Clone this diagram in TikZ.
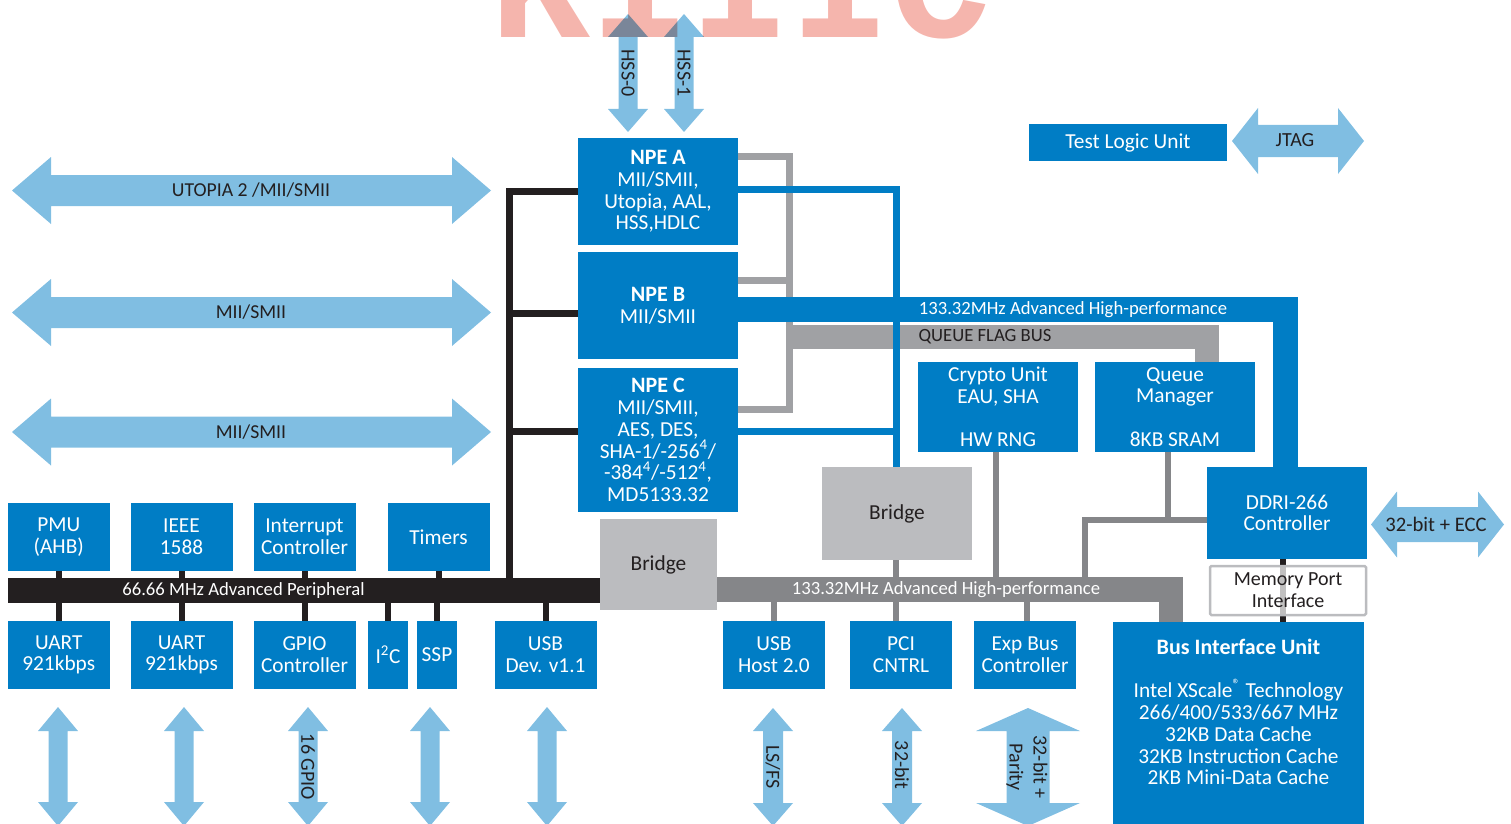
\documentclass[tikz,border=0pt]{standalone}
\usepackage{fontspec}
\setmainfont{Carlito}
\newfontfamily\wmfont{Liberation Mono}
\usetikzlibrary{calc}
\definecolor{iblue}{RGB}{0,125,197}
\definecolor{lblue}{RGB}{128,190,226}
\definecolor{bgray}{RGB}{187,188,191}
\definecolor{dgray}{RGB}{133,134,137}
\definecolor{qgray}{RGB}{160,161,164}
\definecolor{ink}{RGB}{35,31,32}
\definecolor{wpink}{RGB}{245,181,173}
\pgfdeclarelayer{bg}
\pgfsetlayers{bg,main}
\newcommand\supfour{\smash{\textsuperscript{4}}}
% horizontal double arrow: x1,x2,yc,shaft half,head half,head length
\newcommand\dblh[6]{\fill[lblue] (#1,#3) -- ({#1+#6},{#3-#5}) -- ({#1+#6},{#3-#4}) -- ({#2-#6},{#3-#4}) -- ({#2-#6},{#3-#5}) -- (#2,#3) -- ({#2-#6},{#3+#5}) -- ({#2-#6},{#3+#4}) -- ({#1+#6},{#3+#4}) -- ({#1+#6},{#3+#5}) -- cycle;}
% vertical double arrow: xc,y1,y2,shaft half,head half,head length
\newcommand\dblv[6]{\fill[lblue] (#1,#2) -- ({#1+#5},{#2+#6}) -- ({#1+#4},{#2+#6}) -- ({#1+#4},{#3-#6}) -- ({#1+#5},{#3-#6}) -- (#1,#3) -- ({#1-#5},{#3-#6}) -- ({#1-#4},{#3-#6}) -- ({#1-#4},{#2+#6}) -- ({#1-#5},{#2+#6}) -- cycle;}
\tikzset{
 base/.style={inner sep=0pt, outer sep=0pt, align=center, font=\fontsize{16pt}{16.3pt}\selectfont},
 sz/.style 2 args={minimum width=#1*0.75pt, minimum height=#2*0.75pt},
 bluebox/.style={base, fill=iblue, text=white},
 graybox/.style={base, fill=bgray, text=ink},
 buslabel/.style={inner sep=0pt, font=\fontsize{14pt}{16pt}\selectfont},
 arrowlabel/.style={inner sep=0pt, text=ink, font=\fontsize{14.8pt}{16pt}\selectfont},
 vlabel/.style={inner sep=0pt, text=ink, rotate=-90, align=center, font=\fontsize{15pt}{18pt}\selectfont},
 blkline/.style={draw=ink, line width=7*0.75pt},
 blkstub/.style={draw=ink, line width=6*0.75pt},
 qline/.style={draw=qgray, line width=7*0.75pt},
 qband/.style={draw=qgray, line width=24*0.75pt},
 bline/.style={draw=iblue, line width=7*0.75pt},
 bband/.style={draw=iblue, line width=25*0.75pt},
 gline/.style={draw=dgray, line width=6*0.75pt},
 gband/.style={draw=dgray, line width=24*0.75pt},
}
\begin{document}
\begin{tikzpicture}[x=0.75pt, y=-0.75pt]
\useasboundingbox (0,0) rectangle (1511,824);
\clip (0,0) rectangle (1511,824);

% ---------- interface arrows ----------
\dblh{12}{491}{190.5}{15.5}{33.5}{39}
\dblh{12}{491}{312.5}{15.5}{33.5}{39}
\dblh{12}{491}{432}{15.5}{33.5}{39}
\dblh{1232}{1364}{141}{16}{33}{26}
\dblh{1371}{1504}{524.5}{17.5}{33}{26}
\dblv{628}{14}{132}{9.5}{20}{23}
\dblv{684}{14}{132}{9.5}{20}{23}
\dblv{58}{707}{826}{9.5}{20}{24}
\dblv{184}{707}{826}{9.5}{20}{24}
\dblv{308}{707}{826}{9.5}{20}{24}
\dblv{430}{707}{826}{9.5}{20}{24}
\dblv{547}{707}{826}{9.5}{20}{24}
\dblv{773}{708}{826}{10}{20}{23}
\dblv{902}{708}{826}{10}{20}{23}
\dblv{1028}{708}{826}{21.5}{52}{23}

\node[arrowlabel] (utopia) at (251,190.5) {UTOPIA 2 /MII/SMII};
\node[arrowlabel] (mii1) at (251,312.5) {MII/SMII};
\node[arrowlabel] (mii2) at (251,432) {MII/SMII};
\node[arrowlabel, font=\fontsize{15pt}{16pt}\selectfont] (jtag) at (1295,140) {JTAG};
\node[arrowlabel, font=\fontsize{15.5pt}{16pt}\selectfont] (ecc) at (1436,524) {32-bit + ECC};
\node[vlabel] (hss0) at (628,73) {HSS-0};
\node[vlabel] (hss1) at (684,73) {HSS-1};
\node[vlabel] (gpiol) at (308,767) {16 GPIO};
\node[vlabel] (lsfs) at (773,767) {LS/FS};
\node[vlabel] (pci32) at (902,765) {32-bit};
\node[vlabel] (expl) at (1027,767) {32-bit +\\Parity};

% ---------- buses (nodes) ----------
\node[fill=ink, inner sep=0pt, sz={592}{25}] (apb) at (304,590.5) {};
\node[fill=dgray, inner sep=0pt, sz={466}{25}] (ahb) at (950,589.5) {};

% ---------- blocks ----------
\node[bluebox, sz={160}{107}] (npeA) at (658,191.5) {{\fontsize{16.5pt}{16.3pt}\selectfont\bfseries NPE A}\\MII/SMII,\\Utopia, AAL,\\HSS,HDLC};
\node[bluebox, sz={160}{107}] (npeB) at (658,305.5) {{\fontsize{16.5pt}{16.3pt}\selectfont\bfseries NPE B}\\MII/SMII};
\node[bluebox, sz={160}{144}] (npeC) at (658,440) {{\fontsize{16.5pt}{16.3pt}\selectfont\bfseries NPE C}\\MII/SMII,\\AES, DES,\\SHA-1/-256\supfour/\\-384\supfour/-512\supfour,\\MD5133.32};
\node[bluebox, sz={160}{90}] (crypto) at (998,407) {Crypto Unit\\EAU, SHA\\~\\HW RNG};
\node[bluebox, sz={160}{90}] (qm) at (1175,407) {Queue\\Manager\\~\\8KB SRAM};
\node[bluebox, sz={198}{37}] (tlu) at (1128,142.5) {Test Logic Unit};
\node[bluebox, sz={160}{92}] (ddr) at (1287,513) {DDRI-266\\Controller};
\node[graybox, sz={150}{93}] (bridgeU) at (897,513.5) {Bridge};
\node[graybox, sz={117}{91}] (bridgeL) at (658.5,564.5) {Bridge};
\node[bluebox, sz={251}{220}, anchor=north] (biu) at (1238.5,622) {};
\node[base, text=white] (biutxt) at (1238.5,712) {{\fontsize{16.5pt}{16.3pt}\selectfont\bfseries Bus Interface Unit}\\~\\Intel XScale\smash{\textsuperscript{®}} Technology\\266/400/533/667 MHz\\32KB Data Cache\\32KB Instruction Cache\\2KB Mini-Data Cache};

\node[bluebox, sz={102}{68}] (pmu) at (58.75,537) {PMU\\(AHB)};
\node[bluebox, sz={102}{68}] (ieee) at (181.5,537) {IEEE\\1588};
\node[bluebox, sz={102}{68}] (intc) at (304.5,537) {Interrupt\\Controller};
\node[bluebox, sz={102}{68}] (timers) at (438.5,537) {Timers};
\node[bluebox, sz={102}{68}] (uart1) at (58.75,655) {UART\\921kbps};
\node[bluebox, sz={102}{68}] (uart2) at (181.5,655) {UART\\921kbps};
\node[bluebox, sz={102}{68}] (gpio) at (304.5,655) {GPIO\\Controller};
\node[bluebox, sz={40}{68}] (i2c) at (388,655) {I\textsuperscript{2}C};
\node[bluebox, sz={40}{68}] (ssp) at (437,655) {SSP};
\node[bluebox, sz={102}{68}] (usbd) at (545.5,655) {USB\\Dev. v1.1};
\node[bluebox, sz={102}{68}] (usbh) at (774,655) {USB\\Host 2.0};
\node[bluebox, sz={102}{68}] (pci) at (901,655) {PCI\\CNTRL};
\node[bluebox, sz={102}{68}] (exp) at (1025,655) {Exp Bus\\Controller};

% ---------- bus labels ----------
\node[buslabel, text=white] (apbl) at (243.5,590.5) {66.66 MHz Advanced Peripheral};
\node[buslabel, text=white] (ahbl) at (946,589.5) {133.32MHz Advanced High-performance};
\node[buslabel, text=white] (ahbbl) at (1073,309.5) {133.32MHz Advanced High-performance};
\node[buslabel, text=ink] (qfb) at (985,336.5) {QUEUE FLAG BUS};

% ---------- connectors (behind) ----------
\begin{pgfonlayer}{bg}
 % queue flag / NPE gray
 \draw[qband] (785.5,336.5) -| (qm.north -| 1207,0);
 \draw[qline] (npeA.east |- 0,156) -| (789,409) -- (npeC.east |- 0,409);
 \draw[qline] (npeB.east |- 0,280) -- (789,280);
 % blue AHB bus and lines
 \draw[bband] (npeB.east |- 0,309.5) -| (ddr.north -| 1285.5,0);
 \draw[bline] (npeA.east |- 0,189) -| (bridgeU.north -| 896,0);
 \draw[bline] (npeC.east |- 0,431) -- (bridgeU.north |- 0,431);
 % black APB tree
 \draw[blkline] (apb.north -| 509,0) |- (npeA.west |- 0,191);
 \draw[blkline] (509,313) -- (npeB.west |- 0,313);
 \draw[blkline] (509,431) -- (npeC.west |- 0,431);
 \foreach \n in {pmu,ieee,intc,timers} \draw[blkstub] (\n.south) -- (\n.south |- apb.north);
 \foreach \n in {uart1,uart2,gpio,i2c,ssp,usbd} \draw[blkstub] (\n.north) -- (\n.north |- apb.south);
 % gray AHB connections
 \draw[gband] (1171,589.5) -- (biu.north -| 1171,0);
 \draw[gline] (bridgeU.south -| 896,0) -- (ahb.north -| 896,0);
 \draw[gline] (crypto.south -| 996,0) -- (ahb.north -| 996,0);
 \draw[gline] (qm.south -| 1168,0) -- (1168,520);
 \draw[gline] (ddr.west |- 0,520) -| (ahb.north -| 1085,0);
 \draw[gline] (usbh.north) -- (usbh.north |- ahb.south);
 \draw[gline] (pci.north -| 896,0) -- (ahb.south -| 896,0);
 \draw[gline] (exp.north -| 1027,0) -- (ahb.south -| 1027,0);
 % memory port
 \draw[blkstub] (ddr.south -| 1283,0) -- (biu.north -| 1283,0);
\end{pgfonlayer}

\node[base, text=ink, font=\fontsize{15pt}{16.3pt}\selectfont, draw=bgray, line width=2.5*0.75pt, fill=white, fill opacity=0.72, text opacity=1, rounded corners=1pt, sz={156}{49}] (mpi) at (1288,590.5) {Memory Port\\Interface};

% ---------- watermark ----------
\begin{scope}[blend mode=multiply]
\node[anchor=base west, inner sep=0pt, text=wpink, font=\wmfont\bfseries\fontsize{125pt}{125pt}\selectfont] (wm) at (490,38) {KIIIC};
\end{scope}
\end{tikzpicture}
\end{document}
